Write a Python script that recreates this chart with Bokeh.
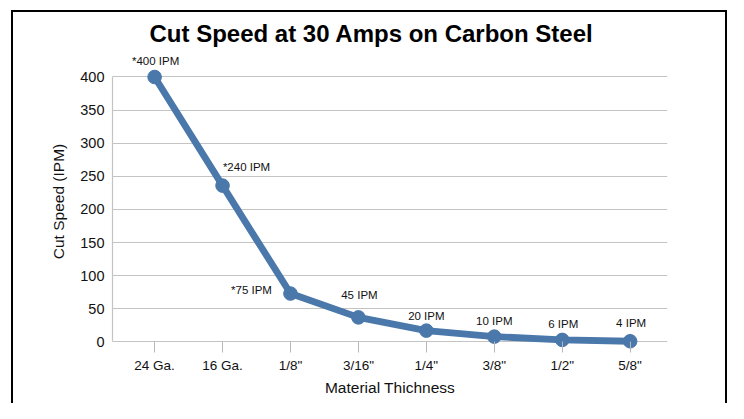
from bokeh.plotting import figure
from bokeh.models import Range1d, FixedTicker, ColumnDataSource
from bokeh.embed import file_html
from bokeh.resources import INLINE
from bokeh.core.properties import value

# ---- data ----
categories = ['24 Ga.', '16 Ga.', '1/8"', '3/16"', '1/4"', '3/8"', '1/2"', '5/8"']
cut_speed = [400, 236, 73, 37, 17, 8, 3, 1]
point_labels = ["*400 IPM", "*240 IPM", "*75 IPM", "45 IPM", "20 IPM", "10 IPM", "6 IPM", "4 IPM"]
y_ticks = [0, 50, 100, 150, 200, 250, 300, 350, 400]

# label placement (screen px) - styling only
label_dx = [1, 24, -39, 1, 0, 0, 1, 1]
label_dy = [-16, -19, -4, -22, -15, -16, -16, -18]

x_idx = list(range(len(categories)))
FONT = "Liberation Sans"
LINE_COLOR = "#4A78AA"

src = ColumnDataSource(dict(x=x_idx, y=cut_speed, lab=point_labels, dx=label_dx, dy=label_dy))

p = figure(
    output_backend="svg", toolbar_location=None,
    frame_width=555, frame_height=302,
    min_border_left=99, min_border_right=58, min_border_top=38, min_border_bottom=51,
    x_range=Range1d(-0.62, 7.55), y_range=Range1d(-16, 440),
    title="Cut Speed at 30 Amps on Carbon Steel",
)
p.margin = (10, 1, 0, 11)
p.styles = {"border-top": "2px solid #000", "border-left": "2px solid #000", "border-right": "2px solid #000"}
p.background_fill_color = "white"
p.border_fill_color = "white"
p.outline_line_color = None

p.title.text_font = FONT
p.title.text_font_size = "24px"
p.title.text_font_style = "bold"
p.title.text_color = "#000000"
p.title.align = "left"
p.title.offset = 37
p.title.standoff = 8

# grid
p.xgrid.visible = False
p.ygrid.ticker = FixedTicker(ticks=y_ticks)
p.ygrid.grid_line_color = "#c4c4c4"
p.ygrid.grid_line_width = 1.2

# y axis
p.yaxis.ticker = FixedTicker(ticks=y_ticks)
p.yaxis.bounds = (0, 400)
p.yaxis.axis_line_color = "#c4c4c4"
p.yaxis.axis_line_width = 1.2
p.yaxis.major_tick_out = 0
p.yaxis.major_tick_in = 0
p.yaxis.minor_tick_line_color = None
p.yaxis.major_label_standoff = 8
p.yaxis.major_label_text_font = FONT
p.yaxis.major_label_text_font_size = "14.5px"
p.yaxis.major_label_text_color = "#111111"
p.yaxis.axis_label = "Cut Speed (IPM)"
p.yaxis.axis_label_text_font = FONT
p.yaxis.axis_label_text_font_size = "15.5px"
p.yaxis.axis_label_text_font_style = "normal"
p.yaxis.axis_label_text_color = "#111111"
p.yaxis.axis_label_standoff = 10

# x axis
p.xaxis.ticker = FixedTicker(ticks=x_idx)
p.xaxis.major_label_overrides = {i: c for i, c in zip(x_idx, categories)}
p.xaxis.axis_line_color = None
p.xaxis.major_tick_in = 11
p.xaxis.major_tick_out = 0
p.xaxis.major_tick_line_color = "#b8b8b8"
p.xaxis.minor_tick_line_color = None
p.xaxis.major_label_standoff = 5
p.xaxis.major_label_text_font = FONT
p.xaxis.major_label_text_font_size = "13.5px"
p.xaxis.major_label_text_color = "#111111"
p.xaxis.axis_label = "Material Thichness"
p.xaxis.axis_label_text_font = FONT
p.xaxis.axis_label_text_font_size = "15.5px"
p.xaxis.axis_label_text_font_style = "normal"
p.xaxis.axis_label_text_color = "#111111"
p.xaxis.axis_label_standoff = 3

# series
p.line("x", "y", source=src, line_width=6.8, line_color=LINE_COLOR, line_join="round")
p.scatter("x", "y", source=src, size=13.6, fill_color=LINE_COLOR, line_color=LINE_COLOR)
p.text("x", "y", text="lab", source=src, x_offset="dx", y_offset="dy",
       text_font=value(FONT), text_font_size="11.5px", text_color="#111111",
       text_align="center", text_baseline="middle")

open("out.html", "w").write(file_html(p, INLINE))
